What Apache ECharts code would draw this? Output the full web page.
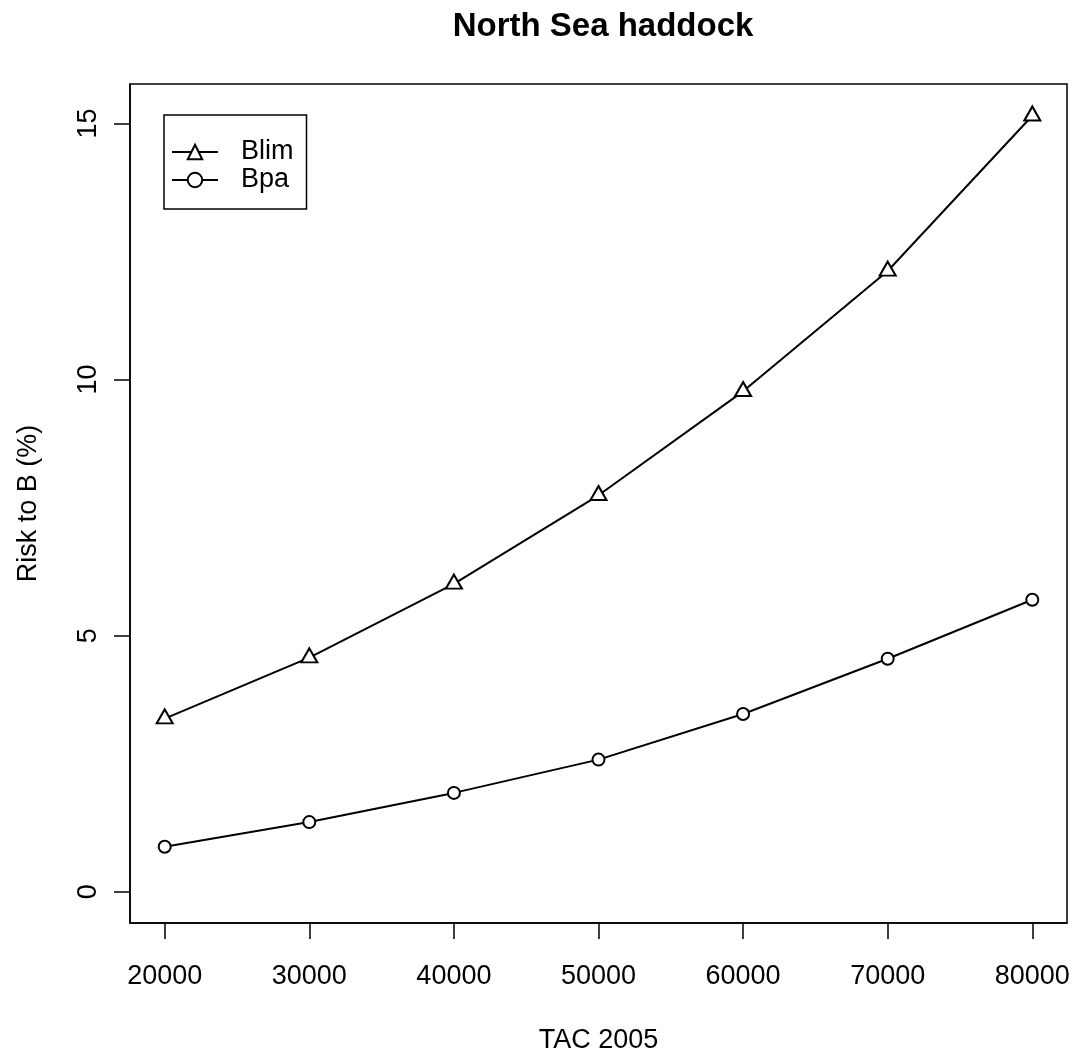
<!DOCTYPE html>
<html>
<head>
<meta charset="utf-8">
<title>North Sea haddock</title>
<script src="https://cdn.jsdelivr.net/npm/echarts@6/dist/echarts.min.js"></script>
<style>
  html, body { margin: 0; padding: 0; background: #fff; }
  #chart { width: 1083px; height: 1059px; }
</style>
</head>
<body>
<div id="chart"></div>
<script>
// Valeurs
const tac = [20000, 30000, 40000, 50000, 60000, 70000, 80000];
const blim = [3.38, 4.57, 6.01, 7.74, 9.77, 12.12, 15.15];
const bpa = [0.88, 1.36, 1.93, 2.58, 3.47, 4.55, 5.70];
const xTicks = [20000, 30000, 40000, 50000, 60000, 70000, 80000];
const yTicks = [0, 5, 10, 15];

const font = 'Liberation Sans, Arial, Helvetica, sans-serif';

const chart = echarts.init(document.getElementById('chart'));

const pairs = (ys) => tac.map((x, i) => [x, ys[i]]);

chart.setOption({
    animation: false,
    backgroundColor: '#fff',
    title: {
        text: 'North Sea haddock',
        left: 598,
        top: 5,
        textAlign: 'center',
        textStyle: { fontFamily: font, fontSize: 33, fontWeight: 'bold', color: '#000' }
    },
    grid: {
        left: 130, right: 16, top: 84, bottom: 134,
        show: true, borderColor: '#000', borderWidth: 1.5
    },
    legend: {
        orient: 'vertical',
        left: 164,
        top: 115,
        padding: [23, 13, 15, 7],
        itemWidth: 46,
        itemHeight: 18,
        itemGap: 0,
        borderColor: '#000',
        borderWidth: 1.5,
        borderRadius: 0,
        textStyle: { fontFamily: font, fontSize: 27, color: '#000', lineHeight: 28, padding: [0, 0, 0, 18] },
        data: ['Blim', 'Bpa']
    },
    xAxis: {
        type: 'value',
        min: 17600,
        max: 82400,
        name: 'TAC 2005',
        nameLocation: 'middle',
        nameGap: 104,
        nameTextStyle: { fontFamily: font, fontSize: 27, color: '#000' },
        axisLine: { show: true, onZero: false, lineStyle: { color: '#000', width: 1.5 } },
        axisTick: { show: true, inside: false, length: 16, customValues: xTicks, lineStyle: { color: '#000', width: 1.5 } },
        axisLabel: {
            customValues: xTicks, margin: 40, fontFamily: font, fontSize: 27, color: '#000',
            formatter: (v) => String(v)
        },
        splitLine: { show: false }
    },
    yAxis: {
        type: 'value',
        min: -0.61,
        max: 15.77,
        name: 'Risk to B (%)',
        nameLocation: 'middle',
        nameRotate: 90,
        nameGap: 88,
        nameTextStyle: { fontFamily: font, fontSize: 27, color: '#000' },
        axisLine: { show: true, onZero: false, lineStyle: { color: '#000', width: 1.5 } },
        axisTick: { show: true, inside: false, length: 16, customValues: yTicks, lineStyle: { color: '#000', width: 1.5 } },
        axisLabel: { customValues: yTicks, rotate: 90, margin: 28, fontFamily: font, fontSize: 27, color: '#000' },
        splitLine: { show: false }
    },
    series: [
        {
            name: 'Blim',
            type: 'line',
            data: pairs(blim),
            symbol: 'triangle',
            symbolSize: [16, 14],
            symbolOffset: [0, -2.3],
            showAllSymbol: true,
            lineStyle: { color: '#000', width: 2 },
            itemStyle: { color: '#fff', borderColor: '#000', borderWidth: 2 }
        },
        {
            name: 'Bpa',
            type: 'line',
            data: pairs(bpa),
            symbol: 'circle',
            symbolSize: 12,
            showAllSymbol: true,
            lineStyle: { color: '#000', width: 2 },
            itemStyle: { color: '#fff', borderColor: '#000', borderWidth: 2 }
        }
    ]
});
</script>
</body>
</html>
